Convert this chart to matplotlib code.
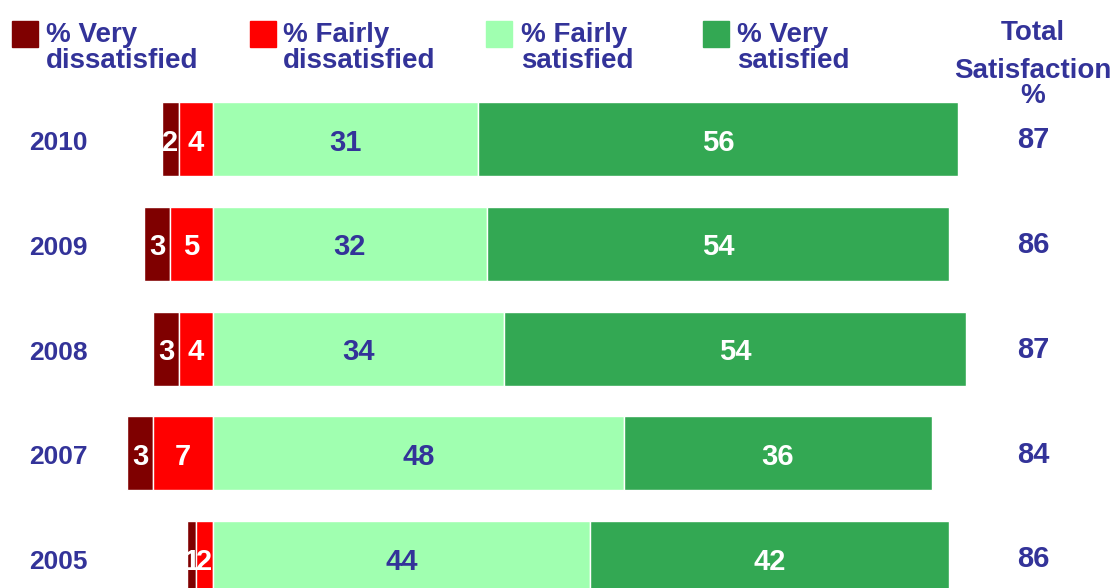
import matplotlib
matplotlib.use("Agg")
import matplotlib.pyplot as plt
import numpy as np

plt.rcParams['font.family'] = ['Liberation Sans', 'DejaVu Sans']
plt.rcParams['font.weight'] = 'bold'

years = ['2010', '2009', '2008', '2007', '2005']
very_dis = [2, 3, 3, 3, 1]
fairly_dis = [4, 5, 4, 7, 2]
fairly_sat = [31, 32, 34, 48, 44]
very_sat = [56, 54, 54, 36, 42]
total_sat = [87, 86, 87, 84, 86]

labels = ['% Very\ndissatisfied', '% Fairly\ndissatisfied', '% Fairly\nsatisfied', '% Very\nsatisfied']
colors = ['#7f0000', '#ff0000', '#a0ffb0', '#33a853']
text_col = '#333399'

W, H = 1116, 588
fig = plt.figure(figsize=(W / 100, H / 100), dpi=100)
ax = fig.add_axes([0, 0, 1, 1])
ax.set_xlim(-24.88, 105.49)
ax.set_ylim(4.286, -1.327)
ax.axis('off')

y = np.arange(len(years))
vd = np.array(very_dis)
fd = np.array(fairly_dis)
fs = np.array(fairly_sat)
vs = np.array(very_sat)
h = 0.706

segs = [
    (vd, -(vd + fd), 'white'),
    (fd, -fd, 'white'),
    (fs, np.zeros(len(fs)), text_col),
    (vs, fs, 'white'),
]
for (vals, left, tc), col in zip(segs, colors):
    ax.barh(y, vals, left=left, height=h, color=col, edgecolor='white', linewidth=1)
    for yi, v, l in zip(y, vals, left):
        ax.text(l + v / 2, yi + 0.11, str(v), ha='center', va='baseline',
                color=tc, fontsize=21, fontweight='bold')

for yi, yr, t in zip(y, years, total_sat):
    ax.text(-18.1, yi + 0.105, yr, ha='center', va='baseline', color=text_col,
            fontsize=19, fontweight='bold')
    ax.text(95.8, yi + 0.09, str(t), ha='center', va='baseline', color=text_col,
            fontsize=21, fontweight='bold')

# legend drawn by hand across the top
sq_x = [12, 250, 486, 703]
txt_x = [46, 283, 521, 737]
for sx, tx, col, lab in zip(sq_x, txt_x, colors, labels):
    fig.patches.append(plt.Rectangle((sx / W, 1 - 47 / H), 26 / W, 26 / H,
                                     transform=fig.transFigure, color=col,
                                     edgecolor='white'))
    l1, l2 = lab.split('\n')
    fig.text(tx / W, 1 - 42 / H, l1, ha='left', va='baseline',
             color=text_col, fontsize=20, fontweight='bold')
    fig.text(tx / W, 1 - 68 / H, l2, ha='left', va='baseline',
             color=text_col, fontsize=20, fontweight='bold')

for txt, by in zip(['Total', 'Satisfaction', '%'], [40, 78, 103]):
    fig.text(1033 / W, 1 - by / H, txt, ha='center', va='baseline',
             color=text_col, fontsize=20, fontweight='bold')

fig.savefig('out.png', dpi=100)
